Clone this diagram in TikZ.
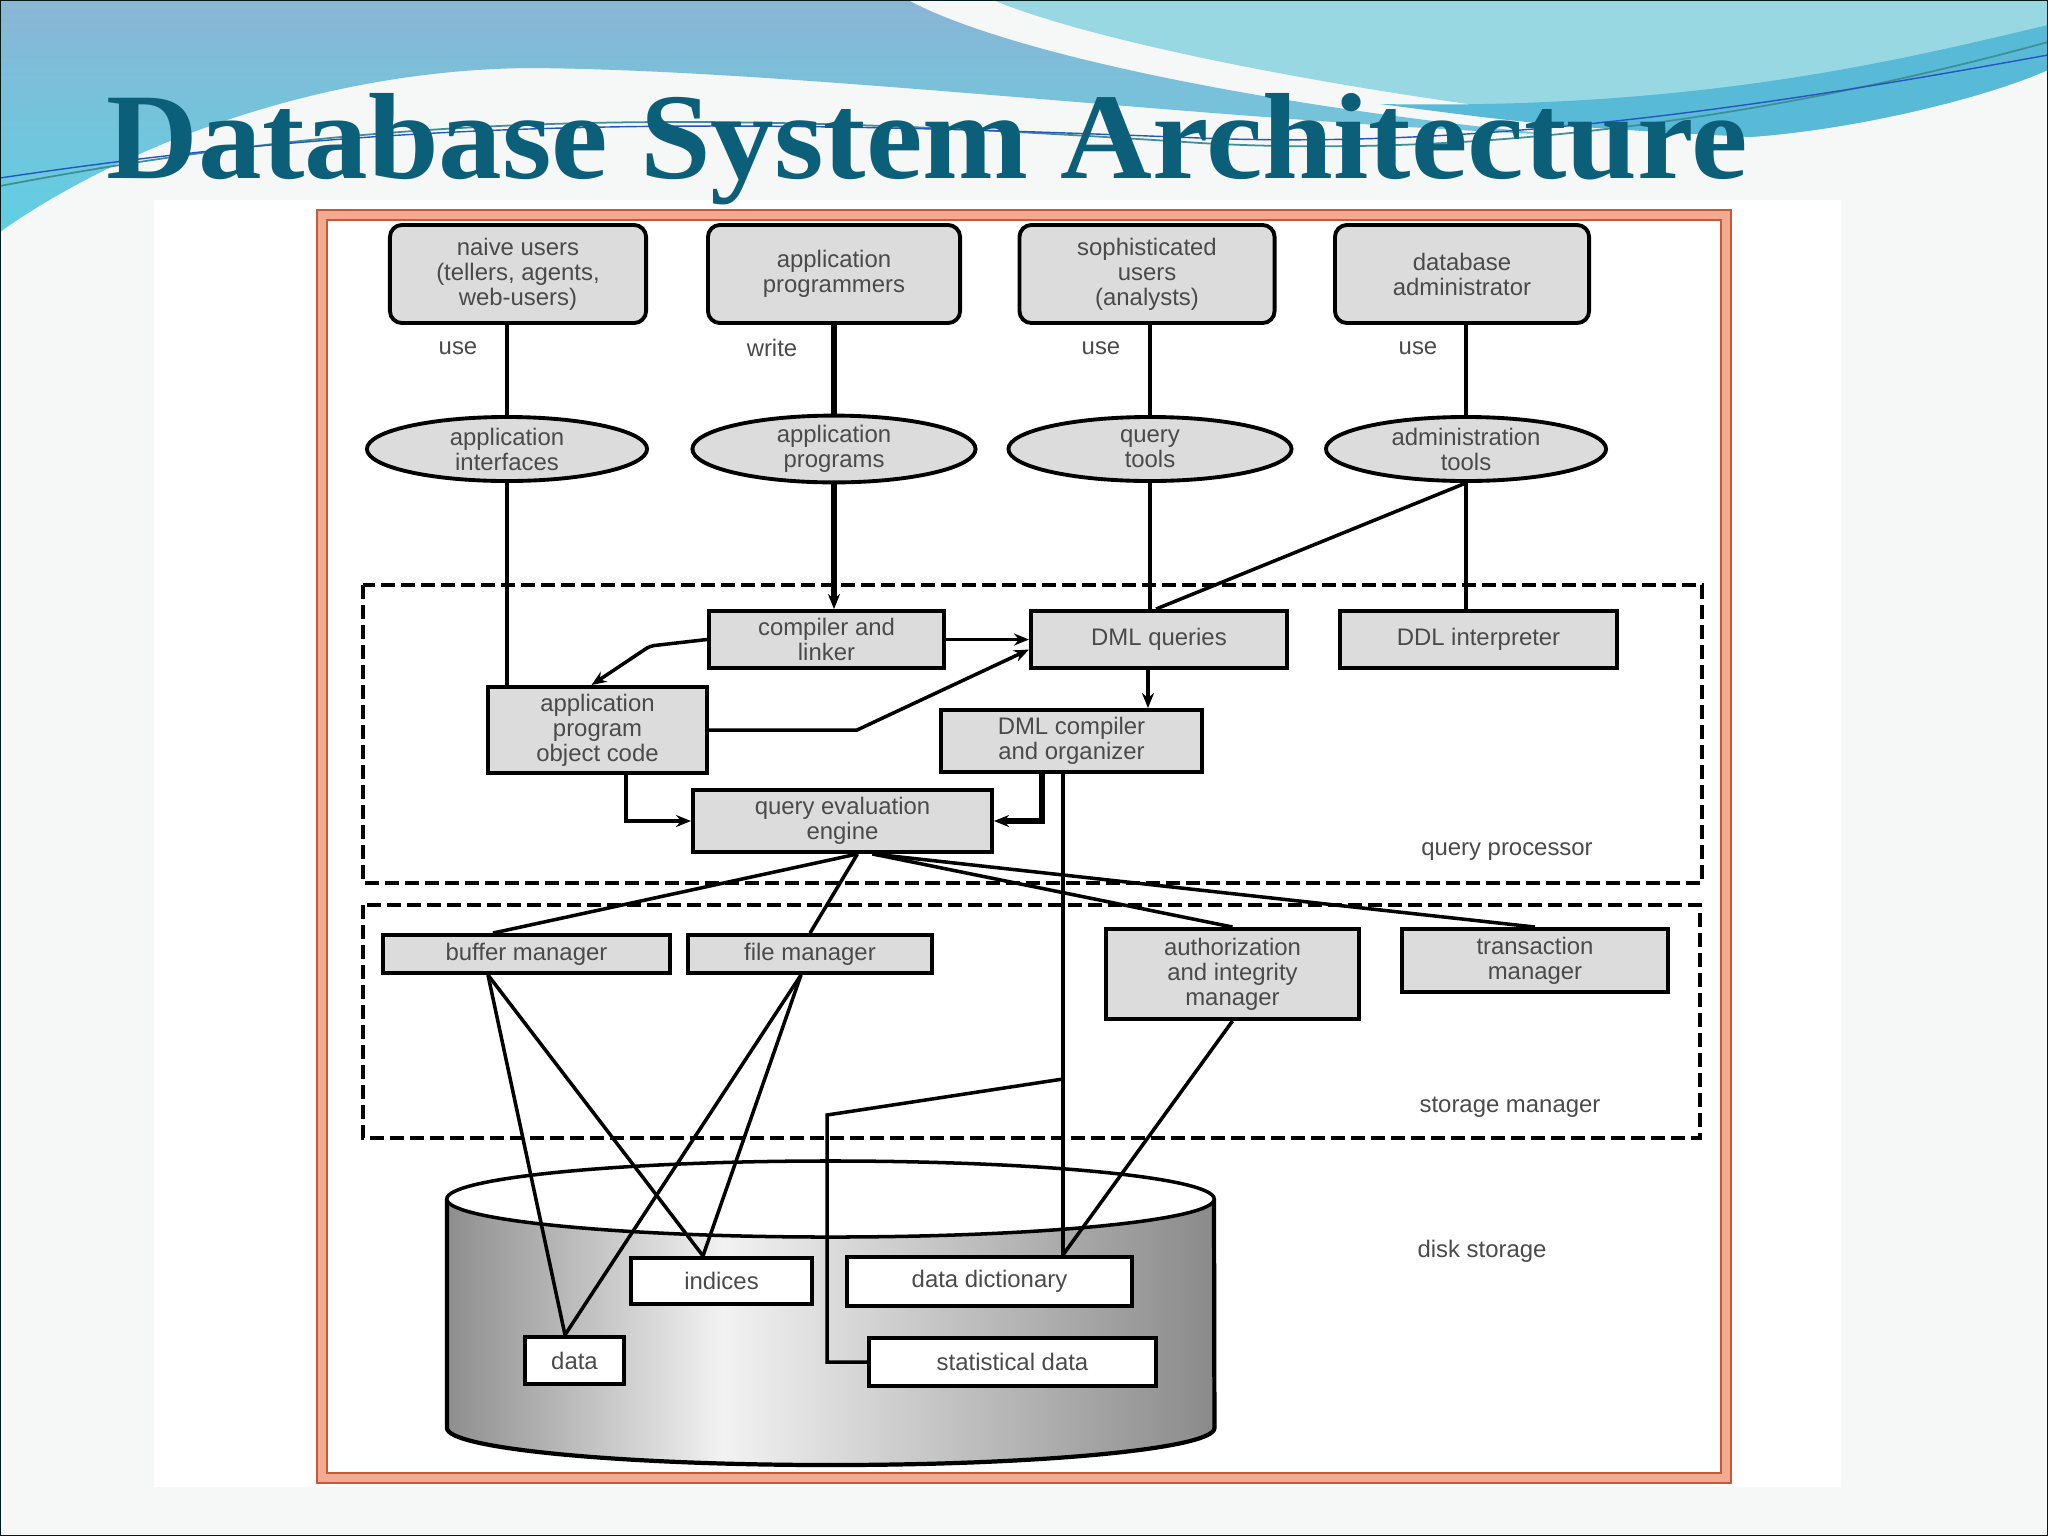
\documentclass[tikz,border=0pt]{standalone}
\usepackage{fontspec}
\setmainfont{Liberation Sans}
\newfontfamily\titlefont{Liberation Serif}
\usetikzlibrary{arrows.meta,shapes.geometric,calc}
\definecolor{slidebg}{HTML}{F6F7F7}
\definecolor{titleC}{HTML}{0C5F79}
\definecolor{txt}{HTML}{4A4A4A}
\definecolor{boxg}{HTML}{DCDCDC}
\definecolor{frameL}{HTML}{C65A38}
\definecolor{frameB}{HTML}{F2AA90}
\definecolor{blueT}{HTML}{8AB6D4}
\definecolor{blueB}{HTML}{5FD0E3}
\definecolor{cyanL}{HTML}{97D8E2}
\definecolor{cyanD}{HTML}{58BAD6}
\definecolor{swoosh}{HTML}{3F8F96}
\definecolor{cylD}{HTML}{8E8E8E}
\definecolor{cylL}{HTML}{F2F2F2}
\definecolor{cylR}{HTML}{8A8A8A}
\pgfdeclarehorizontalshading{cylshade}{100bp}{color(0bp)=(cylD); color(25bp)=(cylD); color(43bp)=(cylL); color(75bp)=(cylR); color(100bp)=(cylR)}
\begin{document}
\begin{tikzpicture}[x=0.01cm,y=-0.01cm,
  lbl/.style={font=\fontsize{6.8pt}{7.1pt}\selectfont, text=txt, align=center, inner sep=0pt},
  gbox/.style={lbl, rectangle, draw=black, line width=1.1pt, fill=boxg},
  rbox/.style={gbox, rounded corners=0.12cm, minimum height=0.98cm},
  ell/.style={lbl, ellipse, draw=black, line width=1.1pt, fill=boxg, minimum height=0.64cm},
  wbox/.style={lbl, rectangle, draw=black, line width=1.2pt, fill=white},
  dbox/.style={draw=black, line width=1.1pt, dash pattern=on 0.14cm off 0.06cm},
  conn/.style={draw=black, line width=1pt},
  arr/.style={-{Stealth[length=0.15cm,width=0.12cm]}}
]
\useasboundingbox (0,0) rectangle (2048,1536);
% slide background
\fill[slidebg] (0,0) rectangle (2048,1536);
% decorations
\shade[top color=blueT, bottom color=blueB] (0,0) -- (908,0)
  .. controls (1000,50) and (1250,105) .. (1560,135)
  .. controls (1200,120) and (800,70) .. (530,68)
  .. controls (300,70) and (100,160) .. (0,232) -- cycle;
\fill[cyanL] (993,0) .. controls (1100,45) and (1400,105) .. (1750,137)
  .. controls (1850,130) and (1980,100) .. (2048,70) -- (2048,0) -- cycle;
\fill[cyanD] (1380,104) .. controls (1550,126) .. (1750,137)
  .. controls (1850,130) and (1980,100) .. (2048,70) -- (2048,25)
  .. controls (1900,60) and (1700,110) .. (1380,104) -- cycle;
\draw[swoosh, line width=0.5pt] (0,186) .. controls (400,110) and (700,110) .. (1200,143)
  .. controls (1500,160) and (1800,110) .. (2048,42);
\draw[swoosh!60!blue, line width=0.4pt] (0,178) .. controls (400,118) and (700,118) .. (1200,138)
  .. controls (1500,150) and (1800,100) .. (2048,55);
% pasted image area
\fill[white] (154,200) rectangle (1841,1487);
% title
\node[anchor=base west, inner sep=0pt, text=titleC] (title) at (106,178)
  {\resizebox{16.4cm}{0.85cm}{\titlefont\bfseries Database System Architecture}};
% orange frame
\fill[frameB] (317,210) rectangle (1731,1483);
\fill[white] (327,220) rectangle (1721,1473);
\draw[frameL, line width=0.6pt] (317,210) rectangle (1731,1483);
\draw[frameL, line width=0.6pt] (327,220) rectangle (1721,1473);
% dashed containers
\draw[dbox] (363,585) rectangle (1702,883);
\draw[dbox] (363,905) rectangle (1700,1138);
% cylinder
\shade[shading=cylshade] (447,1199) -- (447,1428) arc[start angle=180, end angle=360, x radius=3.835cm, y radius=0.37cm] -- (1214,1199) -- cycle;
\draw[line width=1.2pt] (447,1199) -- (447,1428) arc[start angle=180, end angle=360, x radius=3.835cm, y radius=0.37cm] -- (1214,1199);
\draw[line width=1pt, fill=white] (830.5,1199) ellipse [x radius=3.835cm, y radius=0.38cm];
% users
\node[rbox, minimum width=2.56cm] (nu) at (518,274) {naive users\\(tellers, agents,\\web-users)};
\node[rbox, minimum width=2.52cm] (ap) at (834,274) {application\\programmers};
\node[rbox, minimum width=2.55cm] (su) at (1147,274) {sophisticated\\users\\(analysts)};
\node[rbox, minimum width=2.54cm] (da) at (1462,274) {database\\administrator};
\node[lbl] (u1) at (458,348) {use};
\node[lbl] (u2) at (772,348) {write};
\node[lbl] (u3) at (1101,348) {use};
\node[lbl] (u4) at (1418,348) {use};
% ellipses
\node[ell, minimum width=2.80cm] (e1) at (507,449) {application\\interfaces};
\node[ell, minimum width=2.83cm] (e2) at (834,449) {application\\programs};
\node[ell, minimum width=2.83cm] (e3) at (1150,449) {query\\tools};
\node[ell, minimum width=2.80cm] (e4) at (1466,449) {administration\\tools};
% query processor
\node[gbox, minimum width=2.35cm, minimum height=0.57cm] (cl) at (826.5,639.5) {compiler and\\linker};
\node[gbox, minimum width=2.56cm, minimum height=0.57cm] (dq) at (1159,639.5) {DML queries};
\node[gbox, minimum width=2.77cm, minimum height=0.57cm] (ddl) at (1478.5,639.5) {DDL interpreter};
\node[gbox, minimum width=2.19cm, minimum height=0.86cm] (obj) at (597.5,730) {application\\program\\object code};
\node[gbox, minimum width=2.61cm, minimum height=0.62cm] (dc) at (1071.5,741) {DML compiler\\and organizer};
\node[gbox, minimum width=2.99cm, minimum height=0.62cm] (qe) at (842.5,821) {query evaluation\\engine};
\node[lbl] (qpl) at (1507,852) {query processor};
% storage manager
\node[gbox, minimum width=2.87cm, minimum height=0.38cm] (bm) at (526.5,954) {buffer manager};
\node[gbox, minimum width=2.44cm, minimum height=0.38cm] (fm) at (810,954) {file manager};
\node[gbox, minimum width=2.53cm, minimum height=0.90cm] (aim) at (1232.5,974) {authorization\\and integrity\\manager};
\node[gbox, minimum width=2.66cm, minimum height=0.63cm] (tm) at (1535,960.5) {transaction\\manager};
\node[lbl] (sml) at (1510,1107) {storage manager};
% disk storage
\node[wbox, minimum width=0.99cm, minimum height=0.47cm] (data) at (574.5,1360.5) {data};
\node[wbox, minimum width=1.81cm, minimum height=0.46cm] (ind) at (721.5,1281) {indices};
\node[wbox, minimum width=2.85cm, minimum height=0.49cm] (dd) at (989.5,1281.5) {data dictionary};
\node[wbox, minimum width=2.87cm, minimum height=0.48cm] (sd) at (1012.5,1362) {statistical data};
\node[lbl] (dsl) at (1482,1251) {disk storage};
% helper coordinates
\coordinate (qeL) at ([xshift=0.15cm]qe.south);
\coordinate (qeR) at ([xshift=0.3cm]qe.south);
\coordinate (bmT) at ([xshift=-0.335cm]bm.north);
\coordinate (bmB) at ([xshift=-0.385cm]bm.south);
\coordinate (fmB) at ([xshift=-0.09cm]fm.south);
\coordinate (dataT) at ([xshift=-0.095cm]data.north);
\coordinate (indT) at ([xshift=-0.185cm]ind.north);
\coordinate (v) at ([xshift=-0.085cm]dc.south);
\coordinate (dcq) at ([xshift=-0.295cm]dc.south);
\coordinate (objq) at ([xshift=0.285cm]obj.south);
\coordinate (dqb) at ([xshift=-0.11cm]dq.south);
\coordinate (br) at (1063,1079);
\coordinate (bk) at (827,1115);
\coordinate (kink) at (650,646);
% connectors
\draw[conn] (nu.south -| e1.north) -- (e1.north);
\draw[conn, line width=1.8pt] (ap.south) -- (e2.north);
\draw[conn] (su.south -| e3.north) -- (e3.north);
\draw[conn] (da.south -| e4.north) -- (e4.north);
\draw[conn] (e1.south) -- (e1.south |- obj.north);
\draw[conn, arr, line width=1.6pt] (e2.south) -- (e2.south |- cl.north);
\draw[conn] (e3.south) -- (e3.south |- dq.north);
\draw[conn] (e4.south) -- ([xshift=0.06cm]e3.south |- dq.north);
\draw[conn] (e4.south) -- (e4.south |- ddl.north);
\draw[conn, arr, rounded corners=0.04cm] (cl.west) -- (kink) -- ([xshift=-0.06cm]obj.north);
\draw[conn, arr] (cl.east) -- (dq.west);
\draw[conn, arr] (obj.east) -- ++(148,0) -- ([yshift=-0.1cm]dq.west);
\draw[conn, arr] (dqb) -- (dqb |- dc.north);
\draw[conn, arr] (objq) |- (qe.west);
\draw[conn, arr, line width=1.5pt] (dcq) |- (qe.east);
\draw[conn] (v) -- (v |- dd.north);
\draw[conn] (br) -- (bk) |- (sd.west);
\draw[conn] (qeL) -- (bmT);
\draw[conn] (qeL) -- (fm.north);
\draw[conn] (qeR) -- (aim.north);
\draw[conn] (qeR) -- (tm.north);
\draw[conn] (bmB) -- (dataT);
\draw[conn] (bmB) -- (indT);
\draw[conn] (fmB) -- (dataT);
\draw[conn] (fmB) -- (indT);
\draw[conn] (aim.south) -- (v |- dd.north);
% slide border
\draw[black!80!teal, line width=0.8pt] (0,0) rectangle (2048,1536);
\end{tikzpicture}
\end{document}
